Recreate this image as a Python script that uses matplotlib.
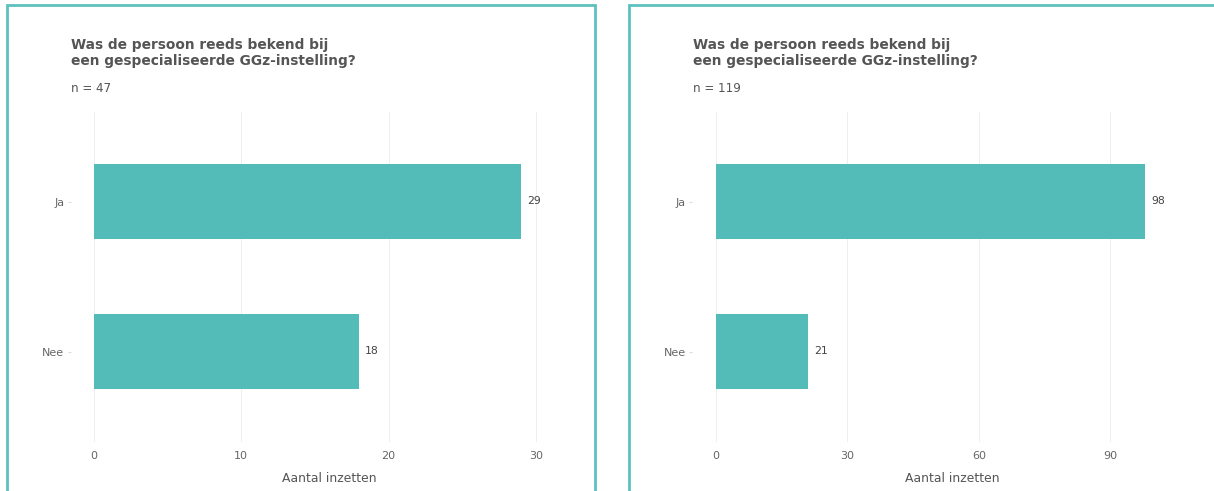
import matplotlib
matplotlib.use("Agg")
import matplotlib.pyplot as plt
from matplotlib.patches import Rectangle

categories = ["Nee", "Ja"]
left_values = [18, 29]
right_values = [21, 98]
left_ticks = [0, 10, 20, 30]
right_ticks = [0, 30, 60, 90]
title = "Was de persoon reeds bekend bij\neen gespecialiseerde GGz-instelling?"
left_n = "n = 47"
right_n = "n = 119"
xlabel = "Aantal inzetten"

W, H = 1214, 491
fig = plt.figure(figsize=(W / 100, H / 100), dpi=100)
plt.rcParams['font.family'] = ['DejaVu Sans']

BAR = "#53BCB9"
BORDER = "#5DC1BF"
TXT = "#555555"
TICK = "#666666"


def fx(px):
    return px / W


def fy(py):
    return 1 - py / H


def panel(box, values, ticks, ntext, title_x, zero_px, px_per_unit):
    x0, x1 = box
    fig.patches.append(Rectangle((fx(x0), fy(H + 20)), fx(x1) - fx(x0), fy(5) - fy(H + 20),
                                 transform=fig.transFigure, fill=False,
                                 edgecolor=BORDER, linewidth=2, clip_on=False))
    vmax = max(values)
    top = 1.1 * vmax
    lo, hi = -0.05 * top, 1.05 * top
    a0 = zero_px + lo * px_per_unit
    a1 = zero_px + hi * px_per_unit
    ax = fig.add_axes([fx(a0), fy(441.5), fx(a1) - fx(a0), fy(111.5) - fy(441.5)])
    ax.set_xlim(lo, hi)
    ax.set_ylim(0.4 - 1, 2.6 - 1)
    ypos = list(range(len(categories)))
    ax.barh(ypos, values, height=0.5, color=BAR, zorder=2)
    for y, v in zip(ypos, values):
        ax.text(v + 0.0143 * vmax, y, str(v), va="center", ha="left",
                fontsize=7.8, color="#444444")
    ax.set_yticks(ypos)
    ax.set_yticklabels(categories)
    ax.set_xticks(ticks)
    ax.set_xticklabels([str(t) for t in ticks])
    ax.grid(axis="x", color="#ebebeb", linewidth=0.6, zorder=0)
    ax.set_axisbelow(True)
    for s in ax.spines.values():
        s.set_visible(False)
    ax.tick_params(axis="x", length=0, labelsize=8, colors=TICK, pad=7)
    ax.tick_params(axis="y", length=2.5, width=0.5, color="#cccccc", labelsize=8,
                   labelcolor=TICK, pad=2)
    ax.set_xlabel(xlabel, fontsize=8.9, color=TXT, labelpad=8)
    fig.text(fx(title_x), fy(38), title, fontsize=9.9, fontweight="bold", color=TXT,
             ha="left", va="top", linespacing=1.16)
    fig.text(fx(title_x), fy(89), ntext, fontsize=8.6, color=TXT, ha="left", va="center")
    return ax


panel((7, 595), left_values, left_ticks, left_n, 71, 94, 14.73)
panel((629, 1240), right_values, right_ticks, right_n, 693, 716, 4.38)

fig.savefig("out.png", dpi=100)
